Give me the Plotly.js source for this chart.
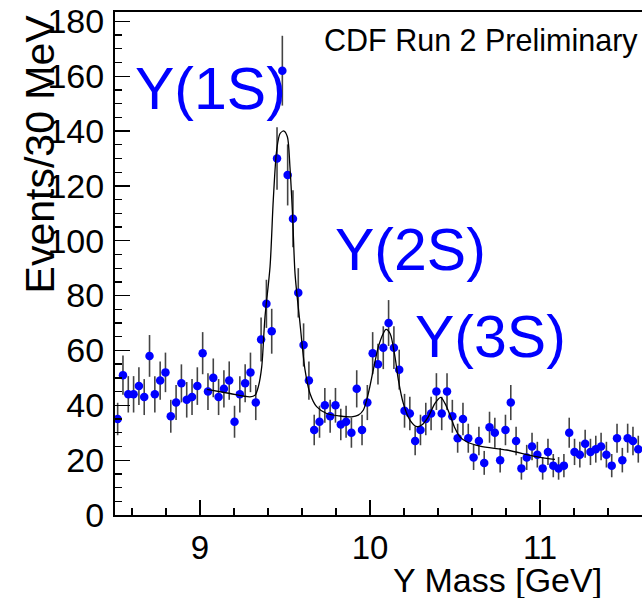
<!DOCTYPE html>
<html>
<head>
<meta charset="utf-8">
<script src="https://cdn.plot.ly/plotly-3.0.1.min.js"></script>
<style>
html, body { margin: 0; padding: 0; overflow: hidden; background: #fff; }
#chart { width: 642px; height: 598px; }
</style>
</head>
<body>
<div id="chart"></div>
<script>
// Histogram: 100 bins of 31.25 MeV from 8.5 GeV
const binLow = 8.5;
const binWidth = 0.03125;
const counts = [
  35, 51, 44, 44, 47, 43, 58, 44, 49, 52,
  36, 41, 48, 42, 43, 47, 59, 45, 50, 43,
  46, 49, 34, 44, 48, 52, 41, 64, 77, 67,
  130, 162, 124, 108, 81, 62, 49, 31, 34, 40,
  36, 40, 33, 34, 30, 46, 31, 41, 59, 55,
  61, 70, 61, 53, 38, 37, 27, 31, 35, 37,
  45, 37, 45, 36, 28, 35, 28, 21, 27, 19,
  32, 30, 20, 31, 41, 27, 17, 21, 25, 22,
  17, 23, 18, 17, 18, 30, 23, 22, 26, 23,
  24, 25, 22, 18, 28, 20, 28, 27, 24, 15
];
const binCenters = counts.map((_, i) => binLow + (i + 0.5) * binWidth);

// Fit curve
const fitMass = [9.041, 9.176, 9.294, 9.324, 9.344, 9.363, 9.382, 9.412, 9.431, 9.451,
  9.471, 9.494, 9.514, 9.529, 9.545, 9.559, 9.588, 9.618, 9.647, 9.686,
  9.745, 9.824, 9.892, 9.931, 9.961, 9.990, 10.019, 10.049, 10.078, 10.094,
  10.118, 10.147, 10.167, 10.196, 10.235, 10.275, 10.304, 10.343, 10.382, 10.416,
  10.441, 10.471, 10.500, 10.529, 10.569, 10.647, 10.804, 10.961, 11.059, 11.088];
const fitValue = [45.8, 44.3, 43.1, 43.7, 47.0, 54.0, 72.0, 90.5, 114.8, 133.0,
  139.1, 140.0, 137.9, 127.0, 108.7, 88.0, 70.0, 52.8, 44.3, 39.5,
  37.0, 36.1, 35.8, 36.4, 38.3, 44.3, 52.8, 61.3, 66.2, 67.7,
  66.2, 57.7, 49.2, 40.7, 34.6, 32.2, 32.8, 35.8, 40.7, 42.9,
  40.7, 36.4, 31.6, 28.5, 26.7, 25.1, 23.7, 21.5, 20.5, 20.3];

const stateLabels = ['\u03A5(1S)', '\u03A5(2S)', '\u03A5(3S)'];
const stateLabelMass = [9.06, 10.24, 10.71];
const stateLabelY = [155.5, 96.5, 65.0];

const xTitle = '\u03A5 Mass [GeV]';
const yTitle = 'Events/30 MeV';
const tagText = 'CDF Run 2 Preliminary';

const font = 'Liberation Sans, Arial, Helvetica, sans-serif';

const traces = [
  {
    type: 'scatter', mode: 'markers',
    x: binCenters, y: counts,
    marker: { color: '#0000ff', size: 8.5 },
    error_y: { type: 'sqrt', visible: true, color: '#444444', thickness: 1.6, width: 0 },
    hoverinfo: 'x+y', showlegend: false, cliponaxis: false
  },
  {
    type: 'scatter', mode: 'lines',
    x: fitMass, y: fitValue,
    line: { color: '#000000', width: 1.3, shape: 'spline', smoothing: 0.8 },
    showlegend: false
  }
];

// plot area spans 115..642 px horizontally, 12..515 px vertically
const annotations = stateLabels.map((t, i) => ({
  text: t, x: stateLabelMass[i], y: stateLabelY[i], xref: 'x', yref: 'y',
  showarrow: false, xanchor: 'center', yanchor: 'middle',
  font: { family: font, size: 59, color: '#0000ff' }
}));
annotations.push({
  text: tagText, xref: 'paper', yref: 'paper', x: 0.996, y: 0.944,
  xanchor: 'right', yanchor: 'middle', showarrow: false,
  font: { family: font, size: 30.5, color: '#000' }
});
annotations.push({
  text: xTitle, xref: 'paper', yref: 'paper', x: 0.928, y: -0.13,
  xanchor: 'right', yanchor: 'middle', showarrow: false,
  font: { family: font, size: 34, color: '#000' }
});
annotations.push({
  text: yTitle, xref: 'paper', yref: 'paper', x: -0.1425, y: 1.0,
  xanchor: 'center', yanchor: 'top', showarrow: false, textangle: -90,
  font: { family: font, size: 41, color: '#000' }
});

const layout = {
  width: 642, height: 598,
  margin: { l: 115, r: 0, t: 12, b: 83 },
  paper_bgcolor: '#fff', plot_bgcolor: '#fff',
  showlegend: false,
  font: { family: font, color: '#000' },
  xaxis: {
    range: [8.5, 11.6], tick0: 9, dtick: 1,
    ticks: 'inside', ticklen: 15, tickwidth: 1.3, tickcolor: '#000',
    minor: { ticks: 'inside', ticklen: 7, dtick: 0.2, tick0: 9, tickcolor: '#000', tickwidth: 1.3, showgrid: false },
    showline: true, linecolor: '#000', linewidth: 2, mirror: true,
    showgrid: false, zeroline: false,
    tickfont: { family: font, size: 33, color: '#000' },
    ticklabelstandoff: 2
  },
  yaxis: {
    range: [0, 183.4], tick0: 0, dtick: 20,
    ticks: 'inside', ticklen: 15, tickwidth: 1.3, tickcolor: '#000',
    minor: { ticks: 'inside', ticklen: 7, dtick: 5, tick0: 0, tickcolor: '#000', tickwidth: 1.3, showgrid: false },
    showline: true, linecolor: '#000', linewidth: 2, mirror: false,
    showgrid: false, zeroline: false,
    tickfont: { family: font, size: 34, color: '#000' },
    ticklabelstandoff: 2
  },
  annotations: annotations
};

Plotly.newPlot('chart', traces, layout, { displayModeBar: false, staticPlot: true });
</script>
</body>
</html>
